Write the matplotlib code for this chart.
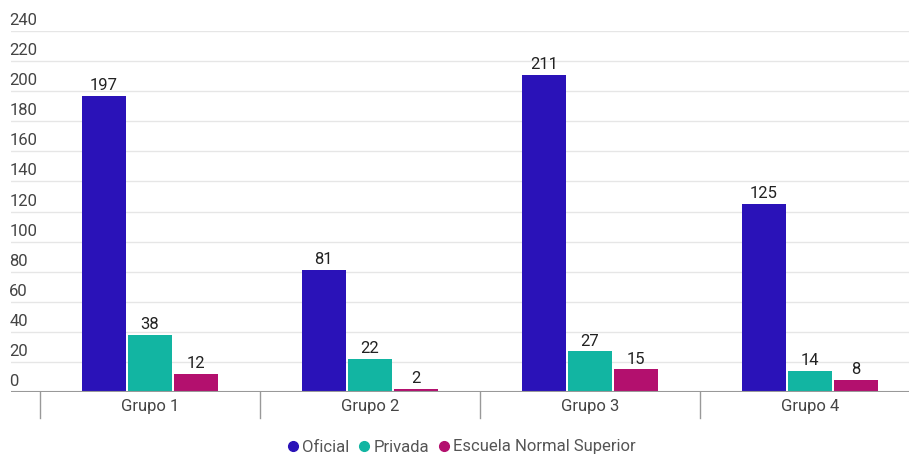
import matplotlib.pyplot as plt
import matplotlib.transforms as mtransforms
from matplotlib.lines import Line2D
import numpy as np

plt.rcParams['font.family'] = ['Roboto', 'DejaVu Sans']

grupos = ['Grupo 1', 'Grupo 2', 'Grupo 3', 'Grupo 4']
oficial = [197, 81, 211, 125]
privada = [38, 22, 27, 14]
normal = [12, 2, 15, 8]
series = ['Oficial', 'Privada', 'Escuela Normal Superior']
colores = ['#2a12b8', '#12b5a2', '#b3106e']
yticks = list(range(0, 241, 20))

W, H = 909, 454
fig = plt.figure(figsize=(W / 100, H / 100), dpi=100)
ax = fig.add_axes([11 / W, 1 - 392 / H, 898 / W, 361 / H])

x = np.arange(len(grupos))
bw = 0.2
for i, (vals, col, name) in enumerate(zip([oficial, privada, normal], colores, series)):
    bars = ax.bar(x + (i - 1) * (bw + 0.01), vals, bw, color=col, label=name, zorder=3)
    ax.bar_label(bars, padding=2, fontsize=12, color='#222222')

ax.set_xlim(-0.5 - 29 / 220, 3.5 - 11 / 220)
ax.set_ylim(0, 240)

# gridlines + tick labels sitting above them
lbl_tr = mtransforms.offset_copy(ax.get_yaxis_transform(), fig=fig, x=0, y=3, units='dots')
for t in yticks:
    if t > 0:
        ax.axhline(t, color='#e6e6e6', lw=1, zorder=1)
    ax.text(-0.002, t, str(t), transform=lbl_tr, ha='left', va='bottom',
            fontsize=12, color='#444444')
ax.axhline(0, color='#999999', lw=1.5, zorder=4)

for s in ax.spines.values():
    s.set_visible(False)
ax.set_xticks([])
ax.set_yticks([])

# category separators and labels under the axis
for k in range(len(grupos) + 1):
    ax.plot([k - 0.5, k - 0.5], [0, -0.072], transform=ax.get_xaxis_transform(),
            color='#999999', lw=1, clip_on=False)
for k, g in enumerate(grupos):
    ax.text(k, -0.04, g, transform=ax.get_xaxis_transform(), ha='center', va='center',
            fontsize=12, color='#444444')

handles = [Line2D([], [], marker='o', ls='', color=c, markersize=7) for c in colores]
fig.legend(handles, series, loc='center', bbox_to_anchor=(460 / W, 1 - 447 / H), ncol=3,
           frameon=False, fontsize=12, handletextpad=0.05, columnspacing=0.4,
           handlelength=1, labelcolor='#555555')

fig.savefig('out.png', dpi=100)
